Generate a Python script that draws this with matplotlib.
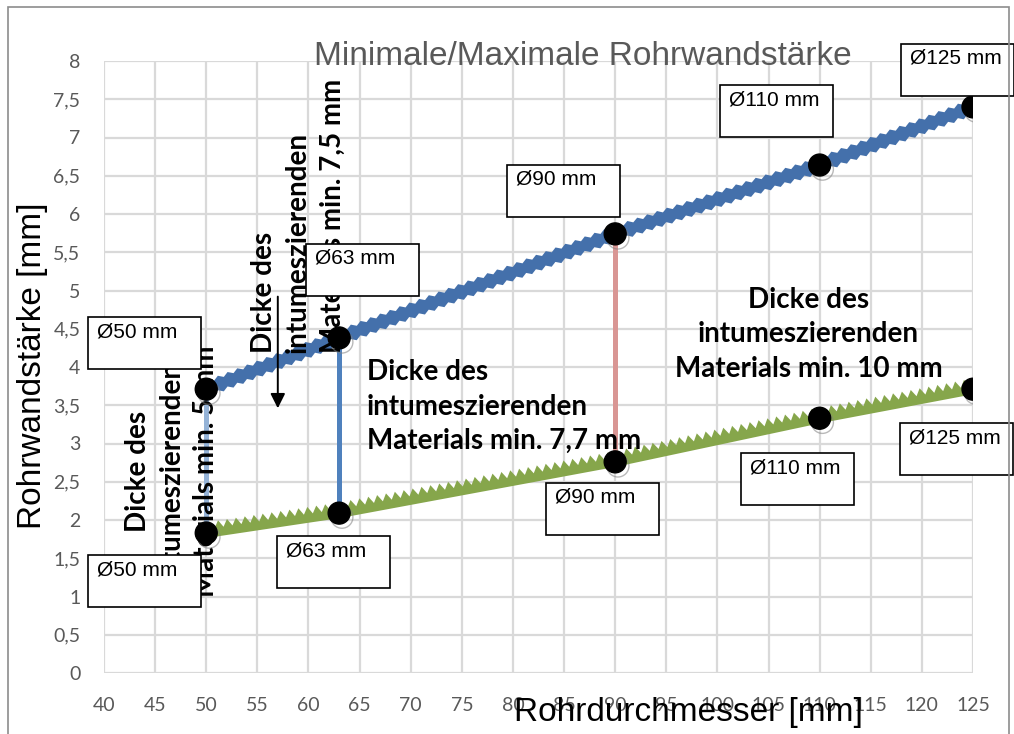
import numpy as np
import matplotlib
matplotlib.use("Agg")
import matplotlib.pyplot as plt
import matplotlib.patheffects as pe
import matplotlib.transforms as mtransforms
from matplotlib.path import Path
from matplotlib.patches import Rectangle
from matplotlib.ticker import MultipleLocator, FuncFormatter

# pipe diameters and wall thicknesses
diameters = [50, 63, 90, 110, 125]
wall_max = [3.71, 4.38, 5.74, 6.64, 7.40]
wall_min = [1.83, 2.09, 2.76, 3.33, 3.71]
labels = ["Ø50 mm", "Ø63 mm", "Ø90 mm", "Ø110 mm", "Ø125 mm"]

# vertical links between min and max (index into diameters)
link_idx = [0, 1, 2]
link_colors = ["#95b3d7", "#4f81bd", "#d99694"]

notes = [
    "Dicke des\nintumeszierenden\nMaterials min. 5 mm",
    "Dicke des\nintumeszierenden\nMaterials min. 7,5 mm",
    "Dicke des\nintumeszierenden\nMaterials min. 7,7 mm",
    "Dicke des\nintumeszierenden\nMaterials min. 10 mm",
]

BLUE = "#4470ab"
GREEN = "#86a64b"
GRAY_TXT = "#595959"


class Zigzag(pe.AbstractPathEffect):
    """Fill a band along the path with saw teeth on one or both edges (sizes in points)."""

    def __init__(self, color, bottom, lo, hi, period, mirrored):
        super().__init__()
        self.color = color
        self.bottom = bottom
        self.lo = lo
        self.hi = hi
        self.period = period
        self.mirrored = mirrored

    def draw_path(self, renderer, gc, tpath, affine, rgbFace=None):
        k = renderer.points_to_pixels(1.0)
        pts = affine.transform(tpath.vertices)
        half = self.period * k / 2
        top, bot = [], []
        for p0, p1 in zip(pts[:-1], pts[1:]):
            seg = p1 - p0
            L = np.hypot(*seg)
            d = seg / L
            n = np.array([-d[1], d[0]])
            steps = int(L // half)
            for j in range(steps + 1):
                c = p0 + d * j * half
                off = (self.hi if j % 2 else self.lo) * k
                top.append(c + n * off)
                if self.mirrored:
                    bot.append(c - n * off)
            if not self.mirrored:
                bot.append(p0 - n * self.bottom * k)
                bot.append(p1 - n * self.bottom * k)
        poly = np.array(top + bot[::-1] + [top[0]])
        gc0 = renderer.new_gc()
        gc0.copy_properties(gc)
        gc0.set_linewidth(0)
        gc0.set_foreground(self.color)
        renderer.draw_path(gc0, Path(poly), mtransforms.IdentityTransform(),
                           rgbFace=matplotlib.colors.to_rgba(self.color))
        gc0.restore()


fig = plt.figure(figsize=(10.14, 7.34), dpi=100)
ax = fig.add_axes([104 / 1014, 61 / 734, (973 - 104) / 1014, (673 - 61) / 734])
ax.set_xlim(40, 125)
ax.set_ylim(0, 8)
ax.xaxis.set_major_locator(MultipleLocator(5))
ax.yaxis.set_major_locator(MultipleLocator(0.5))
fmt = FuncFormatter(lambda v, _: ("%g" % v).replace(".", ","))
ax.xaxis.set_major_formatter(fmt)
ax.yaxis.set_major_formatter(fmt)
ax.grid(True, color="#d9d9d9", lw=1.6)
ax.set_axisbelow(True)
for s in ax.spines.values():
    s.set_visible(False)
ax.tick_params(length=0, labelsize=14, labelcolor=GRAY_TXT, pad=17)
for lab in ax.get_xticklabels() + ax.get_yticklabels():
    lab.set_fontfamily("Lato")

# connectors between min and max wall thickness
for i, c in zip(link_idx, link_colors):
    ax.vlines(diameters[i], wall_min[i], wall_max[i], color=c, lw=3.6, zorder=2)

# textured bands for both series
ax.plot(diameters, wall_max, color=BLUE, lw=0, zorder=3,
        path_effects=[Zigzag(BLUE, 0, 3.7, 6.0, 7.5, True)])
ax.plot(diameters, wall_min, color=GREEN, lw=0, zorder=3,
        path_effects=[Zigzag(GREEN, 3.6, 2.6, 7.8, 6.5, False)])

# notes
bold = dict(family="Lato", weight="bold", fontsize=20, color="black",
            linespacing=1.4, zorder=4)
ax.text(46.65, 2.63, notes[0], rotation=90, ha="center", va="center",
        multialignment="center", **bold)
ax.text(58.98, 4.18, notes[1], rotation=90, ha="center", va="bottom",
        multialignment="left", **bold)
ax.text(65.7, 3.48, notes[2], ha="left", va="center", multialignment="left", **bold)
ax.text(108.9, 4.43, notes[3], ha="center", va="center", multialignment="center", **bold)
ax.annotate("", xy=(57.0, 3.46), xytext=(57.0, 4.92),
            arrowprops=dict(arrowstyle="-|>", color="black", lw=1.4,
                            mutation_scale=22, shrinkA=0, shrinkB=0), zorder=4)

# data points with a soft shadow
shadow = [pe.SimpleLineShadow(offset=(2, -3), shadow_color="0.5", alpha=0.55), pe.Normal()]
for ys in (wall_max, wall_min):
    ax.plot(diameters, ys, ls="none", marker="o", ms=15.8, color="black",
            zorder=5, path_effects=shadow)

# label boxes: offset of the top-left corner from the point, in pixels
max_offsets = [(-118, -72), (-33, -94), (-108, -69), (-100, -80), (-72, -63)]
min_offsets = [(-118, 22), (-62, 23), (-69, 21), (-79, 35), (-73, 34)]
box_w, box_h = 113, 52
for ys, offs in ((wall_max, max_offsets), (wall_min, min_offsets)):
    for x, y, lab, (dx, dy) in zip(diameters, ys, labels, offs):
        tr = fig.dpi_scale_trans + mtransforms.ScaledTranslation(x, y, ax.transData)
        left, top = dx / 100, -dy / 100
        ax.add_patch(Rectangle((left, top - box_h / 100), box_w / 100, box_h / 100,
                               transform=tr, facecolor="white", edgecolor="black",
                               lw=1.2, zorder=6, clip_on=False))
        ax.text(left + 0.09, top - 0.05, lab, transform=tr, ha="left", va="top",
                family="Liberation Sans", fontsize=15, color="black", zorder=7,
                clip_on=False)

fig.text(583 / 1014, 1 - 65 / 734, "Minimale/Maximale Rohrwandstärke", ha="center",
         va="baseline", family="Liberation Sans", fontsize=24, color=GRAY_TXT)
fig.text(688 / 1014, 1 - 712 / 734, "Rohrdurchmesser [mm]", ha="center", va="center",
         family="Liberation Sans", fontsize=24, color="black")
fig.text(33 / 1014, 1 - 366 / 734, "Rohrwandstärke [mm]", ha="center", va="center",
         rotation=90, family="Liberation Sans", fontsize=24, color="black")

# outer chart frame
fig.patches.append(Rectangle((8 / 1014, -0.01), 1001 / 1014, 1.01 - 7 / 734,
                             transform=fig.transFigure, fill=False,
                             edgecolor="#8c8c8c", lw=1.2))

fig.savefig("out.png", dpi=100)
